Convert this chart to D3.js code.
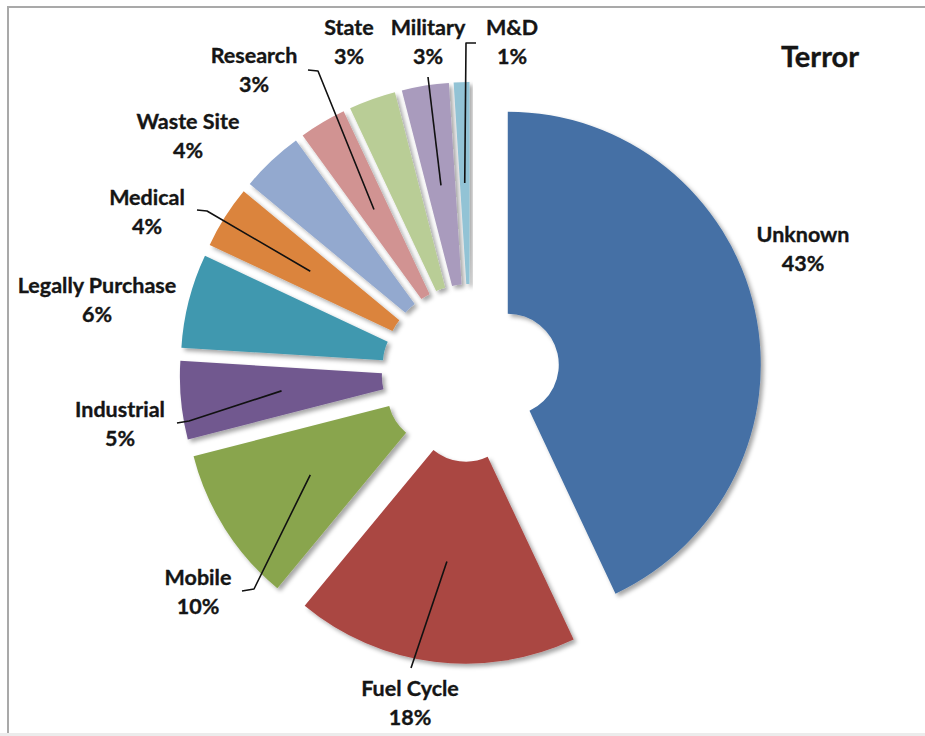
<!DOCTYPE html>
<html>
<head>
<meta charset="utf-8">
<script src="https://cdn.jsdelivr.net/npm/d3@7"></script>
<style>
  html, body { margin: 0; padding: 0; background: #ffffff; }
  svg { display: block; }
  text { font-family: Lato, "Open Sans", sans-serif; font-weight: 700; fill: #151515;
         stroke: #151515; stroke-width: 0.35px; }
</style>
</head>
<body>
<script>
// Sources of material in the "Terror" category, share of cases (%)
const categories = ["Unknown", "Fuel Cycle", "Mobile", "Industrial", "Legally Purchase",
                    "Medical", "Waste Site", "Research", "State", "Military", "M&D"];
const shares = [43, 18, 10, 5, 6, 4, 4, 3, 3, 3, 1];
const sliceColors = ["#4470A5", "#AA4643", "#89A54E", "#71588F", "#4198AF", "#DB843D",
                     "#93A9CF", "#D19392", "#B9CD96", "#A99BBD", "#92C3D5"];
const chartTitle = "Terror";

// Label placement: centre x and first-line baseline of each two-line label
const labelAnchors = [[803, 242], [410, 696], [198, 585], [120, 417], [97, 293], [147, 205],
                      [188, 129], [254, 63], [349, 35], [428, 35], [512, 35]];
// Leader-line bends from the slice centroid out to its label (null = no leader)
const leaderPaths = [null, [[411, 668]], [[254, 589], [242, 591]], [[189, 421], [177, 423]], null,
                     [[207, 211], [197, 210]], null, [[318, 71], [308, 70]], null,
                     [[428, 77]], [[466, 43], [476, 43]]];

const W = 925, H = 736;
const cx = 470.7, cy = 373;
const outerR = 253, innerR = 51, explode = 38;

const svg = d3.select("body").append("svg").attr("width", W).attr("height", H);

// soft outer shadow under each slice
const defs = svg.append("defs");
const f = defs.append("filter").attr("id", "sh").attr("x", "-20%").attr("y", "-20%")
  .attr("width", "140%").attr("height", "140%");
f.append("feDropShadow").attr("dx", 3).attr("dy", 3).attr("stdDeviation", 2.2)
  .attr("flood-color", "#000").attr("flood-opacity", 0.35);

// frame
svg.append("rect").attr("x", 0).attr("y", 733).attr("width", W).attr("height", 3).attr("fill", "#ececec");
svg.append("line").attr("x1", 7).attr("x2", W).attr("y1", 7).attr("y2", 7)
  .attr("stroke", "#a9a9a9").attr("stroke-width", 2);
svg.append("line").attr("x1", 8).attr("x2", 8).attr("y1", 7).attr("y2", 733)
  .attr("stroke", "#a9a9a9").attr("stroke-width", 2);

const pie = d3.pie().sort(null).value(d => d)(shares);
const arc = d3.arc().innerRadius(innerR).outerRadius(outerR);

const offset = d => {
  const m = (d.startAngle + d.endAngle) / 2;
  return [Math.sin(m) * explode, -Math.cos(m) * explode];
};

const g = svg.append("g").attr("transform", `translate(${cx},${cy})`);

g.selectAll("path.slice").data(pie).join("path")
  .attr("class", "slice")
  .attr("d", arc)
  .attr("fill", (d, i) => sliceColors[i])
  .attr("filter", "url(#sh)")
  .attr("transform", d => { const [dx, dy] = offset(d); return `translate(${dx},${dy})`; });

// leader lines
const lineGen = d3.line();
pie.forEach((d, i) => {
  if (!leaderPaths[i]) return;
  const [dx, dy] = offset(d);
  const c = arc.centroid(d);
  const start = [cx + c[0] + dx, cy + c[1] + dy];
  svg.append("path")
    .attr("d", lineGen([start, ...leaderPaths[i]]))
    .attr("fill", "none").attr("stroke", "#111").attr("stroke-width", 1.6)
    .attr("stroke-linejoin", "round");
});

// data labels
pie.forEach((d, i) => {
  const [x, y] = labelAnchors[i];
  const t = svg.append("text").attr("text-anchor", "middle").attr("font-size", 21.5);
  t.append("tspan").attr("x", x).attr("y", y).text(categories[i]);
  t.append("tspan").attr("x", x).attr("y", y + 28.7).text(d.data + "%");
});

svg.append("text").attr("x", 820).attr("y", 66.5).attr("text-anchor", "middle")
  .attr("font-size", 29).text(chartTitle);
</script>
</body>
</html>
